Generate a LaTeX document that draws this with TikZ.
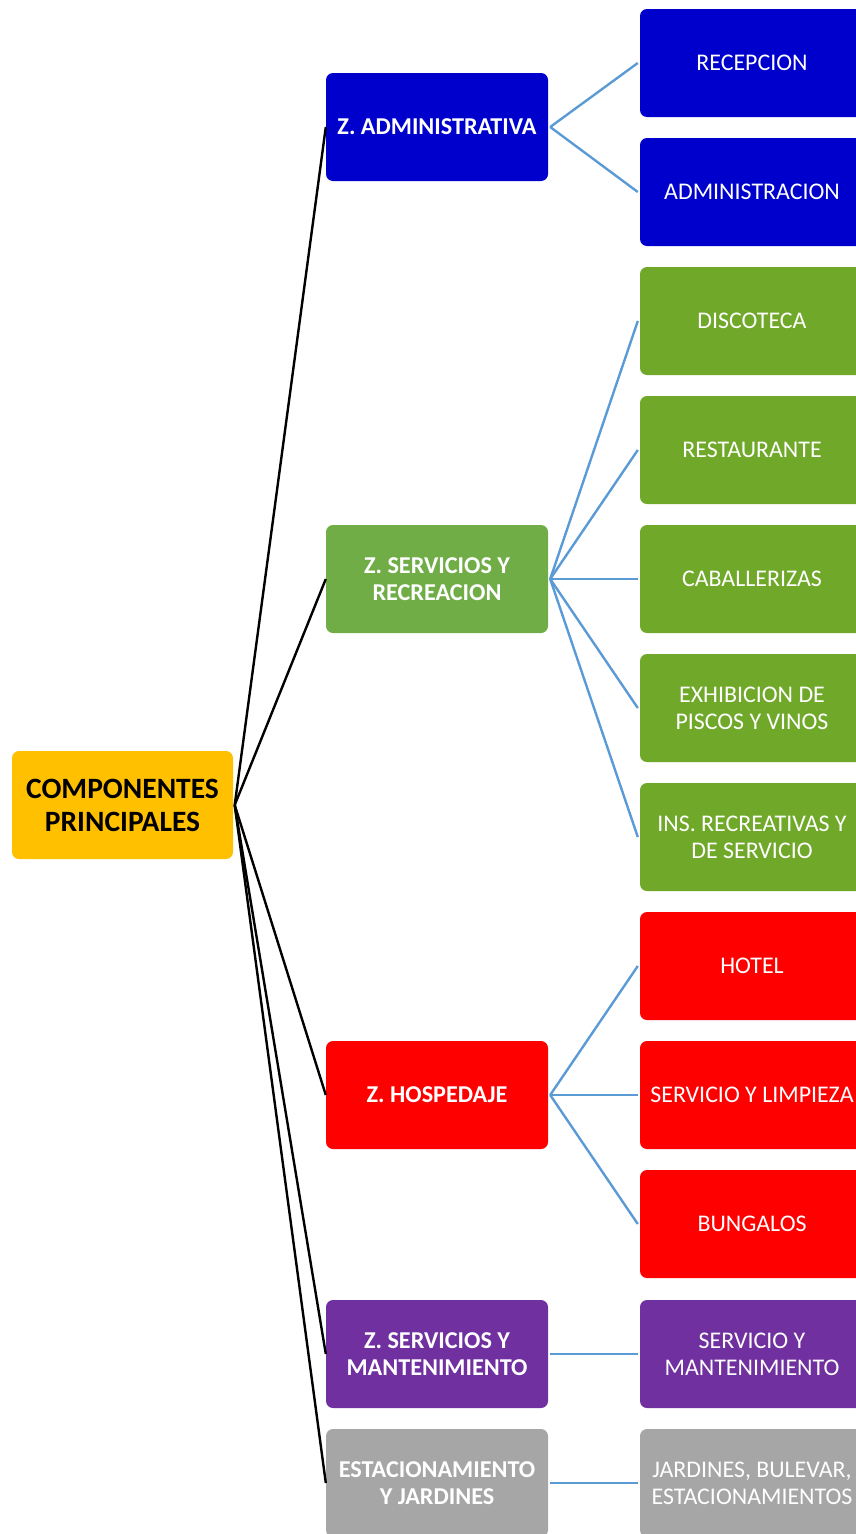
\documentclass[tikz,border=0pt]{standalone}
\usepackage{fontspec}
\setmainfont{Carlito}
\begin{document}
\begin{tikzpicture}[x=1pt,y=-1pt,
  box/.style={rounded corners=7pt, minimum width=222pt, minimum height=108pt, inner sep=0pt, align=center, text=white, font=\fontsize{23.9}{27}\selectfont},
  lone/.style={box, font=\fontsize{24.2}{27}\selectfont\bfseries},
  ltwo/.style={box, minimum width=224pt},
  root/.style={box, minimum width=221pt, text=black, fill=yellowc, font=\fontsize{29.5}{33}\selectfont\bfseries},
  blk/.style={draw=black, line width=2.4pt},
  blu/.style={draw=linec, line width=2.4pt}]
\definecolor{yellowc}{HTML}{FFC000}
\definecolor{bluec}{HTML}{0000CC}
\definecolor{greenA}{HTML}{70AD47}
\definecolor{greenB}{HTML}{70A82A}
\definecolor{redc}{HTML}{FF0000}
\definecolor{purplec}{HTML}{7030A0}
\definecolor{grayc}{HTML}{A6A6A6}
\definecolor{linec}{HTML}{5B9BD5}
\useasboundingbox (0,0) rectangle (856,1534);
\node[root] (r) at (122.5,805) {COMPONENTES\\PRINCIPALES};
\node[lone, fill=bluec] (a) at (437,127) {Z. ADMINISTRATIVA};
\node[lone, fill=greenA] (b) at (437,579) {Z. SERVICIOS Y\\RECREACION};
\node[lone, fill=redc] (c) at (437,1095) {Z. HOSPEDAJE};
\node[lone, fill=purplec] (d) at (437,1354) {Z. SERVICIOS Y\\MANTENIMIENTO};
\node[lone, fill=grayc] (e) at (437,1483) {ESTACIONAMIENTO\\Y JARDINES};
\node[ltwo, fill=bluec] (a1) at (752,63) {RECEPCION};
\node[ltwo, fill=bluec] (a2) at (752,192) {ADMINISTRACION};
\node[ltwo, fill=greenB] (b1) at (752,321) {DISCOTECA};
\node[ltwo, fill=greenB] (b2) at (752,450) {RESTAURANTE};
\node[ltwo, fill=greenB] (b3) at (752,579) {CABALLERIZAS};
\node[ltwo, fill=greenB] (b4) at (752,708) {EXHIBICION DE\\PISCOS Y VINOS};
\node[ltwo, fill=greenB] (b5) at (752,837) {INS. RECREATIVAS Y\\DE SERVICIO};
\node[ltwo, fill=redc] (c1) at (752,966) {HOTEL};
\node[ltwo, fill=redc] (c2) at (752,1095) {SERVICIO Y LIMPIEZA};
\node[ltwo, fill=redc] (c3) at (752,1224) {BUNGALOS};
\node[ltwo, fill=purplec] (d1) at (752,1354) {SERVICIO Y\\MANTENIMIENTO};
\node[ltwo, fill=grayc] (e1) at (752,1483) {JARDINES, BULEVAR,\\ESTACIONAMIENTOS};
\foreach \n in {a,b,c,d,e} \draw[blk] ([xshift=1.5pt]r.east) -- (\n.west);
\foreach \p/\q in {a/a1,a/a2,b/b1,b/b2,b/b3,b/b4,b/b5,c/c1,c/c2,c/c3,d/d1,e/e1}
  \draw[blu] ([xshift=2pt]\p.east) -- ([xshift=-2pt]\q.west);
\end{tikzpicture}
\end{document}
